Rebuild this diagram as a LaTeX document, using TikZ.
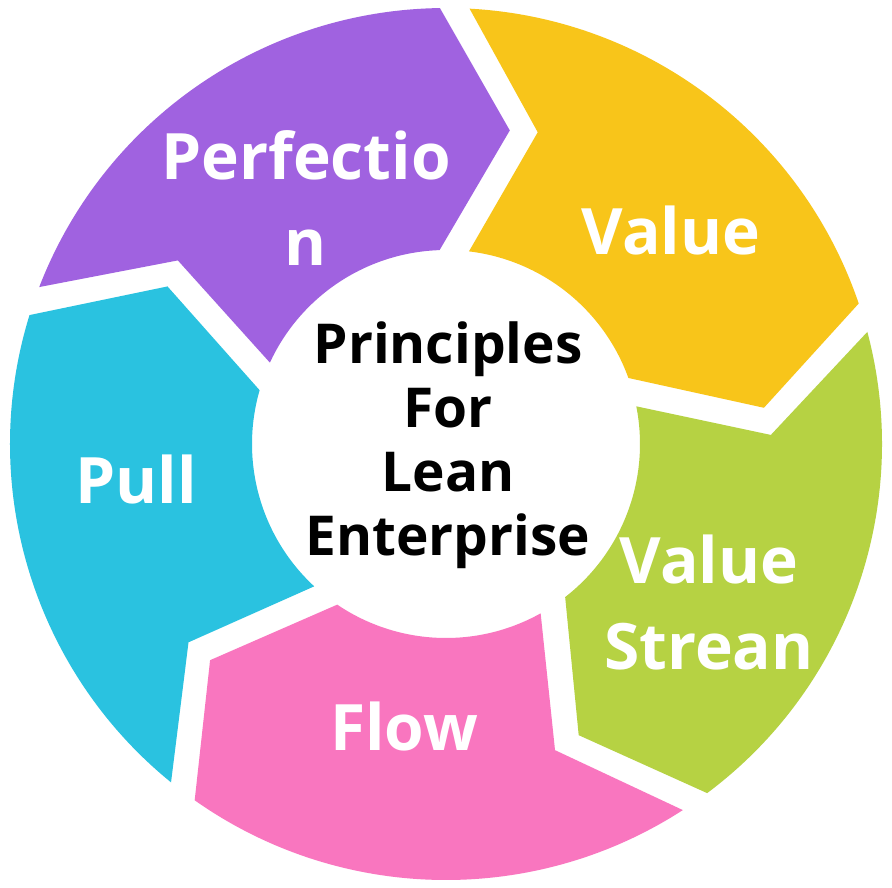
\documentclass[tikz,border=0pt]{standalone}
\usepackage{fontspec}
\setmainfont{Open Sans}
\definecolor{cpurple}{HTML}{A062E0}
\definecolor{cyellow}{HTML}{F8C51A}
\definecolor{cgreen}{HTML}{B6D243}
\definecolor{cpink}{HTML}{F976BF}
\definecolor{ccyan}{HTML}{2AC2E0}
\tikzset{
  lbl/.style={text=white, font=\fontsize{64}{86}\selectfont\bfseries, align=center, anchor=base, inner sep=0pt},
  ctr/.style={text=black, font=\fontsize{55}{64}\selectfont\bfseries, align=center, anchor=base, inner sep=0pt}
}
\newcommand\arrowseg[2]{%
  \begin{scope}[shift={(446,-444)}, rotate=#1]
    \fill[#2] (158.9:436) arc[start angle=158.9, end angle=90.8, radius=436]
      -- (78.5:320) -- (91.9:194) arc[start angle=91.9, end angle=155.2, radius=194]
      -- (145.6:325) -- cycle;
  \end{scope}}
\begin{document}
\begin{tikzpicture}[x=1pt,y=1pt]
\fill[white] (0,0) rectangle (892,-887);
\useasboundingbox (0,0) rectangle (892,-887);
\coordinate (C) at (446,-444);
\arrowseg{0}{cpurple}
\arrowseg{-72}{cyellow}
\arrowseg{-144}{cgreen}
\arrowseg{-216}{cpink}
\arrowseg{-288}{ccyan}
\node[lbl] (perf) at (306,-265) {Perfectio\\n};
\node[lbl] (val) at (671,-254) {Value};
\node[lbl] (vs) at (709,-669) {Value\\Strean};
\node[lbl] (flow) at (404,-750) {Flow};
\node[lbl] (pull) at (136,-503) {Pull};
\node[ctr] (center) at (448,-555) {Principles\\For\\Lean\\Enterprise};
\end{tikzpicture}
\end{document}
